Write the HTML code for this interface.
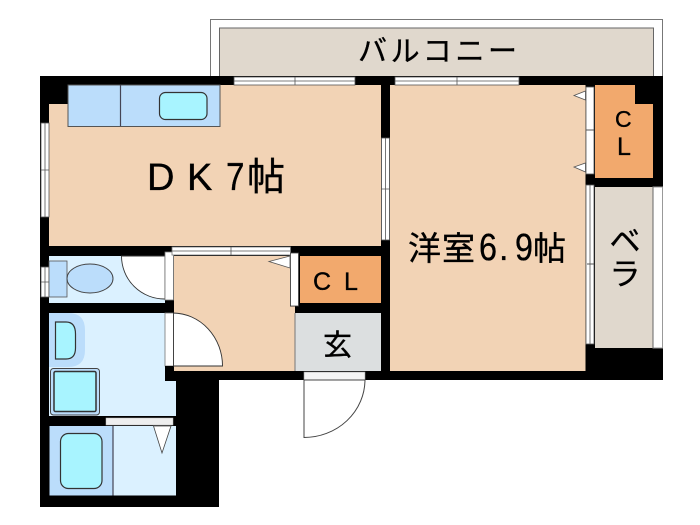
<!DOCTYPE html>
<html><head><meta charset="utf-8"><style>
html,body{margin:0;padding:0;background:#fff;width:700px;height:525px;overflow:hidden}
svg{display:block}
text{font-family:"Liberation Sans","Noto Sans CJK JP",sans-serif;fill:#000;stroke:#000;stroke-width:.35}
</style></head><body>
<svg width="700" height="525" viewBox="0 0 700 525" xmlns="http://www.w3.org/2000/svg">
<rect width="700" height="525" fill="#fff"/>
<!-- balcony -->
<rect x="210.5" y="19.5" width="452" height="60" fill="#fff" stroke="#777" stroke-width="1"/>
<rect x="219.5" y="28" width="434" height="50" fill="#e0d8cd" stroke="#666" stroke-width="1"/>
<!-- black mass -->
<rect x="40" y="76" width="623" height="304" fill="#000" />
<rect x="40" y="380" width="179" height="127" fill="#000"/>
<!-- vera -->
<rect x="653" y="187" width="9.5" height="161" fill="#fff" stroke="#999" stroke-width="1"/>
<rect x="595" y="187" width="58" height="161" fill="#e0d8cd"/>
<line x1="653" y1="187" x2="653" y2="348" stroke="#666"/>
<!-- DK -->
<rect x="49" y="85" width="332" height="161" fill="#f2d3b5"/>
<rect x="49" y="85" width="19" height="19" fill="#000"/>
<rect x="68" y="85" width="152" height="41.5" fill="#bbddfb" stroke="#555" stroke-width="1"/>
<line x1="120.5" y1="85" x2="120.5" y2="126" stroke="#445" stroke-width="1.2"/>
<rect x="159.5" y="92.5" width="47.5" height="27" rx="6" fill="#a8f4ff" stroke="#333" stroke-width="1.2"/>
<!-- western room -->
<rect x="390" y="85" width="195.5" height="286" fill="#f2d3b5"/>
<!-- CL right -->
<path d="M595 85H635V104H653V178H595Z" fill="#f2a96d"/>
<!-- closet doors -->
<rect x="586" y="87" width="8" height="87" fill="#fff" stroke="#555" stroke-width="0.8"/>
<line x1="586" y1="130" x2="594" y2="130" stroke="#555"/>
<path d="M585.5 91V100L574 95.5Z" fill="#fff" stroke="#555" stroke-width="0.8"/>
<path d="M585.5 163V172L574 167Z" fill="#fff" stroke="#555" stroke-width="0.8"/>
<!-- vera window -->
<rect x="586" y="185" width="8" height="159" fill="#fff" stroke="#555" stroke-width="0.8"/>
<line x1="590" y1="185" x2="590" y2="344" stroke="#555" stroke-width="0.8"/>
<line x1="587" y1="264" x2="594" y2="264" stroke="#555"/>
<!-- windows -->
<g fill="#fff" stroke="#555" stroke-width="0.8">
<rect x="234" y="77" width="121" height="8"/>
<rect x="395" y="77" width="124" height="8"/>
<rect x="41" y="123" width="8" height="94"/>
<rect x="381.5" y="138" width="8" height="102"/>
<rect x="41" y="267" width="8" height="30"/>
</g>
<g stroke="#555" stroke-width="0.8" fill="none">
<path d="M234 81H295M295 77V85M291 81H355"/>
<path d="M395 81H457M457 77V85M454 81H519"/>
<path d="M45 123V217M41 170H49"/>
<path d="M385.5 138V240M381 189H390"/>
<path d="M41 282H49M45 267V297"/>
</g>
<!-- toilet room -->
<rect x="49" y="256" width="116" height="47" fill="#dbf1ff"/>
<path d="M121.5 256A43 43 0 0 0 165 299V256Z" fill="#fff" stroke="#333" stroke-width="0.9"/>
<rect x="165" y="252" width="8.5" height="48" fill="#fff" stroke="#777" stroke-width="0.8"/>
<rect x="49" y="261" width="18" height="36" fill="#bbddfb" stroke="#555" stroke-width="0.8"/>
<ellipse cx="90" cy="278.5" rx="23" ry="14.5" fill="#bbddfb" stroke="#444" stroke-width="1"/>
<!-- wash room -->
<path d="M49 313H165V366H176V416H49Z" fill="#dbf1ff"/>
<path d="M49 313H68Q85 313 85 330V350Q85 367 68 367H49Z" fill="#bbddfb"/>
<path d="M55.5 322H66Q75.5 322 75.5 334V348Q75.5 359 66 359H55.5Z" fill="#a8f4ff" stroke="#333" stroke-width="1.2"/>
<rect x="50.5" y="368.5" width="49" height="46.5" rx="3" fill="#bbddfb" stroke="#444" stroke-width="1"/>
<rect x="54" y="371.5" width="42" height="40" rx="1.5" fill="#a8f4ff" stroke="#333" stroke-width="1.5"/>
<!-- wash door -->
<rect x="165" y="313" width="8.5" height="53" fill="#fff" stroke="#777" stroke-width="0.8"/>
<rect x="165" y="366" width="11" height="15" fill="#000"/>
<!-- wall between wash/bath -->
<rect x="49" y="416" width="127" height="10" fill="#000"/>
<rect x="106" y="418" width="67" height="7" fill="#eee" stroke="#bbb" stroke-width="0.5"/>
<!-- bath -->
<rect x="113" y="426" width="63" height="69.5" fill="#dbf1ff"/>
<rect x="49.5" y="426" width="63" height="69.5" fill="#bbddfb"/>
<line x1="113" y1="426" x2="113" y2="495.5" stroke="#445" stroke-width="1.2"/>
<rect x="60.5" y="433.5" width="41.5" height="55" rx="8" fill="#a8f4ff" stroke="#333" stroke-width="1.2"/>
<path d="M153.5 426H171L162 453Z" fill="#fff" stroke="#444" stroke-width="0.8"/>
<!-- entry -->
<path d="M174 256H290V306.5H295V371H174Z" fill="#f2d3b5"/>
<path d="M173.5 313A50 53 0 0 1 222.5 366H173.5Z" fill="#fff" stroke="#333" stroke-width="0.9"/>
<rect x="172" y="247" width="118.5" height="8" fill="#fff" stroke="#777" stroke-width="0.8"/>
<path d="M172 251H231M231 247V255M228 251H290" stroke="#555" stroke-width="0.8" fill="none"/>
<rect x="290.5" y="253" width="8" height="53" fill="#fff" stroke="#444" stroke-width="0.8"/>
<path d="M290 256V268L269 261.5Z" fill="#fff" stroke="#555" stroke-width="0.8"/>
<rect x="300" y="256" width="81" height="47" fill="#f2a96d"/>
<rect x="295.5" y="313" width="85.5" height="58" fill="#dcdfe0"/>
<line x1="295" y1="313" x2="295" y2="371" stroke="#777"/>
<!-- entrance door -->
<rect x="304" y="372" width="61" height="8" fill="#f4f4f4" stroke="#999" stroke-width="0.6"/>
<path d="M304 380V437.5A61 58 0 0 0 365 380Z" fill="#fff" stroke="#444" stroke-width="1"/>
<!-- labels -->
<text x="147" y="190" font-size="38">D</text>
<text x="187" y="190" font-size="38">K</text>
<text transform="translate(226 190) scale(.85 1)" font-size="39">7</text>
<text x="247" y="190" font-size="38">帖</text>
<text x="358" y="61" font-size="29" textLength="159" lengthAdjust="spacing">バルコニー</text>
<text x="408" y="260" font-size="33">洋</text>
<text x="442" y="260" font-size="33">室</text>
<text transform="translate(479 260) scale(.85 1)" font-size="38">6</text>
<text x="499" y="260" font-size="34">.</text>
<text transform="translate(515 260) scale(.85 1)" font-size="38">9</text>
<text x="533" y="260" font-size="33">帖</text>
<text x="615" y="127" font-size="23">C</text>
<text x="617" y="155" font-size="25">L</text>
<text x="313" y="290" font-size="25">C</text>
<text x="344" y="290" font-size="25">L</text>
<text x="337.5" y="355" font-size="29" text-anchor="middle">玄</text>
<text x="625" y="252" font-size="31" text-anchor="middle">ベ</text>
<text x="625" y="285" font-size="31" text-anchor="middle">ラ</text>
</svg>
</body></html>
